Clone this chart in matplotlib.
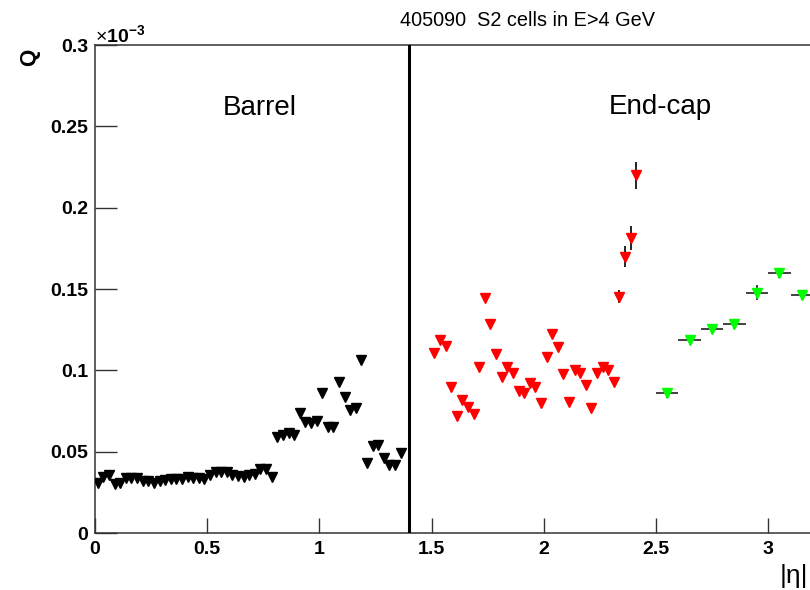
import numpy as np
import matplotlib
matplotlib.use("Agg")
import matplotlib.pyplot as plt

plt.rcParams['font.family'] = ['Liberation Sans', 'DejaVu Sans']
plt.rcParams['mathtext.fontset'] = 'custom'
plt.rcParams['mathtext.rm'] = 'Liberation Sans'
plt.rcParams['mathtext.it'] = 'Liberation Sans:italic'
plt.rcParams['mathtext.bf'] = 'Liberation Sans:bold'

# ---- data (Q in units of 1e-3) ----
barrel_eta = [0.0125 + 0.025 * i for i in range(55)]
barrel_q = [0.031, 0.0346, 0.0359, 0.0301, 0.031, 0.0338, 0.0338, 0.0338, 0.032, 0.032,
            0.031, 0.032, 0.0325, 0.0335, 0.0335, 0.0335, 0.0342, 0.034, 0.034, 0.0335,
            0.0359, 0.0373, 0.0373, 0.0373, 0.0359, 0.0353, 0.0345, 0.0359, 0.0365, 0.0393,
            0.0393, 0.0346, 0.0592, 0.0602, 0.0613, 0.0602, 0.074, 0.0684, 0.0674, 0.069,
            0.0859, 0.0653, 0.0653, 0.093, 0.0834, 0.0756, 0.0766, 0.1063, 0.0428, 0.0535,
            0.054, 0.0459, 0.0418, 0.0418, 0.0494]
barrel_err = [0.0] * 55

endcap_eta = [1.5125 + 0.025 * i for i in range(37)]
endcap_q = [0.1108, 0.1186, 0.115, 0.0895, 0.0721, 0.0818, 0.0773, 0.073, 0.1022, 0.1443,
            0.1285, 0.110, 0.0961, 0.1022, 0.0985, 0.0875, 0.0862, 0.0924, 0.0895, 0.0801,
            0.1084, 0.1223, 0.1141, 0.0976, 0.0807, 0.1002, 0.0982, 0.091, 0.0766, 0.0982,
            0.1022, 0.1002, 0.0926, 0.1453, 0.1699, 0.1815, 0.2199]
endcap_err = [0.0] * 33 + [0.004, 0.0065, 0.0074, 0.0084]

inner_eta = [2.55, 2.65, 2.75, 2.85, 2.95, 3.05, 3.15]
inner_q = [0.0862, 0.1184, 0.1254, 0.1287, 0.1477, 0.1598, 0.1463]
inner_xerr = [0.05] * 7
inner_err = [0.003, 0.003, 0.003, 0.003, 0.0045, 0.003, 0.003]

xticks = [0, 0.5, 1, 1.5, 2, 2.5, 3]
xticklabels = ["0", "0.5", "1", "1.5", "2", "2.5", "3"]
yticks = [0, 0.05, 0.1, 0.15, 0.2, 0.25, 0.3]
yticklabels = ["0", "0.05", "0.1", "0.15", "0.2", "0.25", "0.3"]

W, H = 810, 590
fig = plt.figure(figsize=(W / 100, H / 100), dpi=100)
ax = fig.add_axes([95 / W, 57 / H, 718 / W, 488 / H])
ax.set_xlim(0, 3.2)
ax.set_ylim(0, 0.3)

ms = 7.2
ax.errorbar(barrel_eta, barrel_q, yerr=barrel_err, fmt='v', color='black', ms=ms,
            ecolor='black', elinewidth=1, capsize=0, mec='black', mfc='black', zorder=3)
ax.errorbar(endcap_eta, endcap_q, yerr=endcap_err, fmt='v', color='red', ms=ms,
            ecolor='black', elinewidth=1.2, capsize=0, mec='red', mfc='red', zorder=3)
ax.errorbar(inner_eta, inner_q, xerr=inner_xerr, yerr=inner_err, fmt='v', color='#00ff00',
            ms=ms, ecolor='#222222', elinewidth=1.2, capsize=0, mec='#00ff00',
            mfc='#00ff00', zorder=3)

ax.axvline(1.4, color='black', lw=2.2, zorder=4)

ax.text(0.736, 0.261, "Barrel", fontsize=20, ha='center', va='center')
ax.text(2.52, 0.262, "End-cap", fontsize=20, ha='center', va='center')

ax.set_xticks(xticks)
ax.set_xticklabels(xticklabels, fontweight='bold', fontsize=14)
ax.set_yticks(yticks)
ax.set_yticklabels(yticklabels, fontweight='bold', fontsize=14)
ax.tick_params(axis='x', direction='in', length=10.8, width=1, pad=6, color='#333333')
ax.tick_params(axis='y', direction='in', length=15.8, width=1, pad=5, color='#333333')
ax.minorticks_off()
for side in ['left', 'bottom', 'top', 'right']:
    ax.spines[side].set_linewidth(1.1)
    ax.spines[side].set_color('#333333')

fig.text(527 / W, 1 - 20 / H, "405090  S2 cells in E>4 GeV", fontsize=14.3,
         ha='center', va='center')
fig.text(95 / W, 1 - 35 / H, r"$\times\mathbf{10}^{\mathbf{-3}}$", fontsize=14,
         ha='left', va='center')
fig.text(30 / W, 1 - 57 / H, "Q", fontsize=16, fontweight='bold', rotation=90,
         ha='center', va='center')
fig.text(808 / W, 1 - 576 / H, "|η|", fontsize=19, ha='right', va='center')

fig.savefig("out.png", dpi=100)
